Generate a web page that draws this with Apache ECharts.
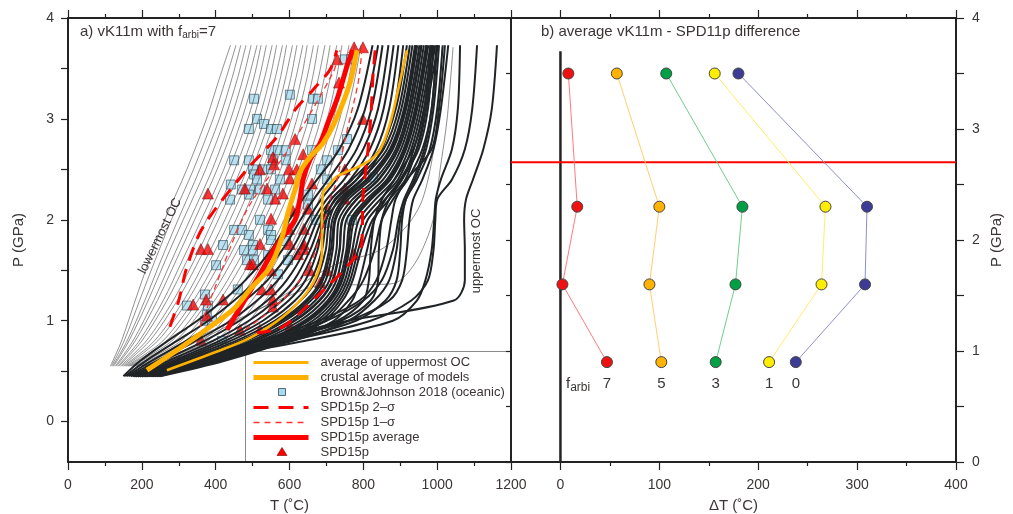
<!DOCTYPE html>
<html>
<head>
<meta charset="utf-8">
<script src="https://cdn.jsdelivr.net/npm/echarts@6/dist/echarts.min.js"></script>
<style>
html,body{margin:0;padding:0;background:#fff;}
#chart{width:1013px;height:514px;}
</style>
</head>
<body>
<div id="chart"></div>
<script>
var FONT = '"Liberation Sans", Arial, sans-serif';
var TXT = '#3b3434';
var AX = '#232323';

// ---- panel a: model P-T paths (T in C at fixed P levels) ----
var pThin = [0.55, 0.8, 1.2, 1.6, 2.0, 2.5, 3.0, 3.4, 3.73];
var thinCurves = [
    [115,145,182,220,262,322,375,410,440],
    [118,152,194,236,280,340,393,428,455],
    [121,160,208,252,298,357,410,444,468],
    [124,165,217,264,312,373,425,459,482],
    [128,176,232,281,330,391,441,474,496],
    [131,182,242,293,343,404,456,489,512],
    [135,193,258,310,361,422,471,503,523],
    [138,200,268,323,375,436,487,518,537],
    [142,212,285,342,393,452,502,532,553],
    [146,221,296,355,407,468,517,547,565],
    [150,234,313,372,425,485,532,561,581],
    [154,243,324,385,439,498,547,575,592],
    [158,257,340,402,455,513,561,589,608],
    [162,267,352,415,470,528,575,603,620],
    [166,281,368,432,487,545,590,617,636],
    [170,291,380,445,500,558,605,632,648],
    [175,306,397,463,518,576,620,647,665],
    [180,318,410,477,532,590,636,662,678],
    [186,334,428,496,551,607,652,678,696],
    [192,347,443,511,566,624,668,694,710],
    [198,364,462,530,585,641,685,710,728],
    [205,378,478,546,601,658,702,727,742],
    [212,397,498,566,621,677,719,744,761],
    [220,412,514,582,637,692,736,761,776],
    [228,432,534,602,657,711,752,777,794]
];
var thinOdd1 = [[200,0.55],[330,0.8],[480,1.05],[600,1.25],[683,1.35],[845,1.36],[891,1.38],[945,1.6],[989,2.0],[1008,2.5],[1027,3.0],[1043,3.71]];
var thinOdd2 = [[210,0.55],[380,0.85],[560,1.2],[720,1.55],[845,1.7],[920,1.95],[960,2.2],[989,2.66],[1005,3.2],[1013,3.71]];

var pThick = [0.45, 0.6, 0.8, 1.0, 1.2, 1.4, 1.7, 2.0, 2.2, 2.4, 2.7, 3.1, 3.73];
var thickCurves = [
    [150,195,270,350,420,480,550,600,635,675,735,785,825],
    [155,210,295,380,450,510,580,630,665,705,760,805,840],
    [160,225,320,410,480,540,605,650,685,728,782,822,852],
    [165,240,345,440,512,568,625,665,700,748,800,840,868],
    [170,255,370,465,540,592,642,676,712,765,818,855,882],
    [175,270,392,490,562,612,656,688,725,782,835,870,895],
    [180,282,410,510,580,628,668,698,738,798,850,884,908],
    [185,292,425,528,598,643,676,690,712,770,845,888,918],
    [190,302,440,545,615,658,688,700,722,782,855,896,926],
    [195,312,455,560,630,672,698,708,733,795,864,903,933],
    [200,322,468,574,644,685,707,716,745,808,872,910,940],
    [205,332,482,588,658,698,717,725,758,820,880,916,946],
    [210,342,495,602,670,708,727,734,770,832,888,922,952],
    [215,352,508,615,682,718,736,744,782,843,895,928,958],
    [220,362,520,628,693,727,745,754,795,854,902,934,964],
    [225,372,533,640,703,735,754,765,808,864,909,940,970],
    [230,382,546,652,712,743,762,776,820,874,916,946,976],
    [235,392,558,663,720,750,770,788,832,884,923,952,982],
    [240,402,570,674,728,757,778,800,845,894,930,958,988],
    [245,412,582,684,736,764,786,812,858,904,937,964,995],
    [250,422,594,694,744,771,794,825,870,914,944,970,1002],
    [200,330,470,580,650,690,712,722,750,812,876,913,943],
    [215,355,505,612,680,716,735,743,780,841,893,927,957],
    [228,378,540,646,708,740,758,770,815,869,913,943,973],
    [180,320,520,760,1045,1075,1075,1073,1078,1097,1125,1148,1162],
    [185,340,640,880,945,968,985,992,996,1010,1040,1056,1062],
    [190,330,520,680,790,835,862,876,887,918,985,1005,1021],
    [185,350,600,820,930,975,990,995,1000,1040,1075,1095,1108],
    [180,330,560,760,870,905,918,925,935,960,990,1010,1030],
    [195,345,540,700,800,850,880,895,910,935,965,985,1000],
    [200,360,580,740,820,840,842,850,870,905,950,975,990],
    [210,380,600,720,770,790,810,830,860,900,945,970,985],
    [190,340,560,730,800,815,820,830,850,885,935,965,982],
    [195,350,590,780,860,890,900,905,915,945,980,1000,1015],
    [205,370,610,760,830,870,890,900,915,940,970,990,1005],
    [200,355,560,700,760,800,830,850,880,920,960,985,998]
];

var avgUpperOC = [[268,0.51],[400,0.69],[493,0.83],[582,1.04],[647,1.28],[677,1.48],[688,1.7],[688,2.03],[691,2.27],[704,2.33],[729,2.43],[783,2.52],[818,2.59],[845,2.69],[872,2.95],[895,3.3],[918,3.68]];
var crustalAvg = [[214,0.51],[300,0.72],[385,0.94],[450,1.12],[493,1.31],[547,1.53],[580,1.83],[596,2.07],[615,2.3],[628,2.47],[655,2.62],[691,2.76],[729,3.02],[764,3.36],[783,3.68]];
var spdAvg = [[431,0.91],[470,1.15],[512,1.41],[560,1.72],[615,2.0],[628,2.2],[637,2.4],[655,2.59],[683,2.76],[704,2.96],[731,3.22],[758,3.55],[772,3.68]];
var sigma2Left = [[276,0.94],[300,1.2],[322,1.53],[366,1.93],[485,2.5],[566,2.82],[615,3.09],[664,3.29],[710,3.49],[728,3.68]];
var sigma2Right = [[512,0.88],[582,0.94],[674,1.24],[764,1.57],[796,1.77],[799,2.23],[810,2.6],[820,3.0],[826,3.42],[832,3.68]];
var sigma1Left = [[358,0.94],[393,1.28],[485,2.1],[601,2.72],[718,3.46],[737,3.68]];
var sigma1Right = [[480,0.91],[574,1.18],[647,1.5],[677,1.77],[710,2.2],[729,2.4],[750,2.79],[786,3.36],[796,3.68]];

var brownJohnson = [
    [601,3.24],[504,3.2],[664,3.2],[677,3.2],[512,3.0],[531,2.95],[490,2.9],[550,2.9],[566,2.9],[661,3.0],
    [756,2.8],[550,2.69],[569,2.69],[590,2.69],[661,2.69],[731,2.69],[450,2.59],[490,2.59],[555,2.59],[590,2.59],
    [702,2.59],[501,2.5],[528,2.5],[550,2.5],[685,2.5],[504,2.45],[512,2.4],[574,2.4],[702,2.4],[441,2.35],
    [471,2.3],[493,2.3],[520,2.3],[561,2.3],[826,2.42],[439,2.2],[490,2.25],[542,2.2],[650,2.25],[650,2.15],
    [520,2.0],[672,2.0],[696,1.97],[769,2.0],[450,1.9],[471,1.9],[490,1.85],[542,1.9],[550,1.85],[420,1.75],
    [501,1.75],[550,1.8],[477,1.7],[501,1.7],[542,1.65],[485,1.6],[504,1.6],[596,1.6],[401,1.55],[569,1.46],
    [460,1.31],[371,1.26],[322,1.15],[379,1.15],[376,1.06],[371,1.0],[390,1.0],[417,0.8],[750,3.59],[767,3.59],
    [590,1.79]
];
var spd15p = [
    [775,3.71],[799,3.71],[729,3.59],[734,3.36],[615,2.8],[637,2.65],[799,3.0],[555,2.62],[558,2.55],[520,2.5],
    [599,2.5],[620,2.5],[750,2.5],[601,2.41],[539,2.31],[479,2.31],[561,2.21],[582,2.26],[661,2.36],[750,2.31],
    [750,2.21],[379,2.26],[650,2.11],[609,2.09],[550,2.01],[599,1.91],[639,1.91],[520,1.76],[601,1.76],[639,1.76],
    [623,1.66],[639,1.71],[360,1.71],[379,1.71],[493,1.56],[501,1.56],[550,1.5],[702,1.5],[775,1.66],[655,1.5],
    [683,1.38],[525,1.31],[550,1.31],[374,1.21],[420,1.21],[339,1.16],[555,1.21],[555,1.14],[376,1.05],[466,0.91],
    [520,0.91],[360,0.81],[601,0.94]
];

// ---- panel b: average difference ----
var fArbi = [7, 5, 3, 1, 0];
var pB = [3.5, 2.3, 1.6, 0.9];
var dT7 = [8, 17, 2, 47];
var dT5 = [57, 100, 90, 102];
var dT3 = [107, 184, 177, 157];
var dT1 = [156, 268, 264, 211];
var dT0 = [180, 310, 308, 238];
var redLineP = 2.7;
var zeroLineTop = 3.7;

var dotFill = ['#ee1111', '#ffb300', '#00a045', '#ffee00', '#3c3c96'];
var lineTint = ['#ff7b7b', '#ffcf70', '#6fcf8f', '#ffee66', '#8f8fcc'];

function pairs(ts, ps) {
    return ts.map(function (t, i) { return [t, ps[i]]; });
}

var chart = echarts.init(document.getElementById('chart'));
var series = [];

thinCurves.forEach(function (ts) {
    series.push({type: 'line', xAxisIndex: 0, yAxisIndex: 0, data: pairs(ts, pThin), symbol: 'none',
        smooth: 0.3, silent: true, lineStyle: {color: '#454545', width: 0.6}});
});
[thinOdd1, thinOdd2].forEach(function (d) {
    series.push({type: 'line', xAxisIndex: 0, yAxisIndex: 0, data: d, symbol: 'none',
        smooth: 0.3, silent: true, lineStyle: {color: '#454545', width: 0.6}});
});
thickCurves.forEach(function (ts) {
    series.push({type: 'line', xAxisIndex: 0, yAxisIndex: 0, data: pairs(ts, pThick), symbol: 'none',
        smooth: 0.3, silent: true, lineStyle: {color: '#202427', width: 2}});
});

function aLine(d, color, width, dash) {
    series.push({type: 'line', xAxisIndex: 0, yAxisIndex: 0, data: d, symbol: 'none', smooth: 0.3, silent: true,
        lineStyle: {color: color, width: width, type: dash || 'solid'}});
}
aLine(avgUpperOC, '#ffb000', 2.6);
aLine(sigma2Left, '#ff0000', 3, [14, 9]);
aLine(sigma2Right, '#ff0000', 3, [14, 9]);
aLine(sigma1Left, '#ff3333', 1.3, [6, 4]);
aLine(sigma1Right, '#ff3333', 1.3, [6, 4]);
aLine(spdAvg, '#ff0000', 5);
aLine(crustalAvg, '#ffb000', 5);

series.push({type: 'scatter', xAxisIndex: 0, yAxisIndex: 0, data: brownJohnson, symbol: 'rect', symbolSize: 9,
    silent: true, itemStyle: {color: '#a6daee', borderColor: '#2d4b5a', borderWidth: 0.8}});
series.push({type: 'scatter', xAxisIndex: 0, yAxisIndex: 0, data: spd15p, symbol: 'triangle', symbolSize: 11,
    silent: true, itemStyle: {color: '#ff0000', borderColor: '#7a0000', borderWidth: 0.6}});

// panel b
series.push({type: 'line', xAxisIndex: 2, yAxisIndex: 1, data: [[0, 0], [0, zeroLineTop]], symbol: 'none',
    silent: true, lineStyle: {color: AX, width: 2.5}});
series.push({type: 'line', xAxisIndex: 2, yAxisIndex: 1, data: [[-50, redLineP], [400, redLineP]], symbol: 'none',
    silent: true, lineStyle: {color: '#ff0000', width: 2}});
[dT7, dT5, dT3, dT1, dT0].forEach(function (arr, k) {
    var d = arr.map(function (v, i) {
        var item = {value: [v, pB[i]]};
        if (i === pB.length - 1) {
            item.label = {show: true, position: 'bottom', distance: 8, formatter: String(fArbi[k]),
                fontSize: 15, fontFamily: FONT, color: TXT};
        }
        return item;
    });
    series.push({type: 'line', xAxisIndex: 2, yAxisIndex: 1, data: d, symbol: 'circle', symbolSize: 11,
        silent: true, lineStyle: {color: lineTint[k], width: 1},
        itemStyle: {color: dotFill[k], borderColor: '#444', borderWidth: 1}});
});

var lineAx = {show: true, onZero: false, lineStyle: {color: AX, width: 2}};
var noLine = {show: false, onZero: false};
var plain = function (v) { return String(v); };
var lbl = {color: TXT, fontSize: 14, fontFamily: FONT, formatter: plain};
var nameStyle = {color: TXT, fontSize: 15, fontFamily: FONT};
var halfs = [0, 0.5, 1, 1.5, 2, 2.5, 3, 3.5, 4];
var ints = [0, 1, 2, 3, 4];
var tk = function (len, vals) {
    var o = {show: true, length: len, lineStyle: {color: AX, width: 1.2}};
    if (vals) o.customValues = vals;
    return o;
};

var option = {
    animation: false,
    backgroundColor: '#fff',
    grid: [
        {left: 68, top: 18, width: 443, height: 444, outerBoundsMode: 'none'},
        {left: 511, top: 18, width: 445, height: 444, outerBoundsMode: 'none'}
    ],
    xAxis: [
        {gridIndex: 0, type: 'value', min: 0, max: 1200, interval: 200, position: 'bottom',
            axisLine: lineAx, splitLine: {show: false}, axisTick: tk(8),
            minorTick: {show: true, splitNumber: 2, length: 4, lineStyle: {color: AX, width: 1.2}},
            axisLabel: Object.assign({margin: 16}, lbl),
            name: 'T (˚C)', nameLocation: 'middle', nameGap: 36, nameTextStyle: nameStyle},
        {gridIndex: 0, type: 'value', min: 0, max: 1200, interval: 200, position: 'top',
            axisLine: lineAx, splitLine: {show: false}, axisTick: tk(8),
            minorTick: {show: true, splitNumber: 2, length: 4, lineStyle: {color: AX, width: 1.2}},
            axisLabel: {show: false}},
        {gridIndex: 1, type: 'value', min: -50, max: 400, position: 'bottom',
            axisLine: lineAx, splitLine: {show: false}, axisTick: tk(8, [0, 100, 200, 300, 400]),
            axisLabel: Object.assign({margin: 16, customValues: [0, 100, 200, 300, 400]}, lbl),
            name: 'ΔT (˚C)', nameLocation: 'middle', nameGap: 36, nameTextStyle: nameStyle},
        {gridIndex: 1, type: 'value', min: -50, max: 400, position: 'top',
            axisLine: lineAx, splitLine: {show: false}, axisTick: tk(8, [0, 100, 200, 300, 400]),
            axisLabel: {show: false}},
        {gridIndex: 1, type: 'value', min: -50, max: 400, position: 'top', offset: 0,
            axisLine: noLine, splitLine: {show: false}, axisTick: tk(4, [50, 150, 250, 350]),
            axisLabel: {show: false}},
        {gridIndex: 1, type: 'value', min: -50, max: 400, position: 'bottom', offset: 0,
            axisLine: noLine, splitLine: {show: false}, axisTick: tk(4, [50, 150, 250, 350]),
            axisLabel: {show: false}}
    ],
    yAxis: [
        {gridIndex: 0, type: 'value', min: -0.4, max: 4, position: 'left',
            axisLine: lineAx, splitLine: {show: false}, axisTick: tk(7, halfs),
            axisLabel: Object.assign({margin: 14, customValues: ints}, lbl),
            name: 'P (GPa)', nameLocation: 'middle', nameGap: 42, nameRotate: 90, nameTextStyle: nameStyle},
        {gridIndex: 1, type: 'value', min: 0, max: 4, position: 'right',
            axisLine: lineAx, splitLine: {show: false}, axisTick: tk(8, halfs),
            axisLabel: Object.assign({margin: 16, customValues: ints}, lbl),
            name: 'P (GPa)', nameLocation: 'middle', nameGap: 33, nameRotate: 90, nameTextStyle: nameStyle},
        {gridIndex: 1, type: 'value', min: 0, max: 4, position: 'left',
            axisLine: lineAx, splitLine: {show: false}, axisTick: tk(5, halfs),
            axisLabel: {show: false}}
    ],
    series: series,
    graphic: [
        {type: 'text', left: 80, top: 24, z: 100, silent: true,
            style: {text: 'a) vK11m with f{s|arbi}=7', font: '15px ' + FONT, fill: TXT,
                rich: {s: {fontSize: 10, fontFamily: FONT, fill: TXT, padding: [8, 0, 0, 0]}}}},
        {type: 'text', left: 541, top: 24, z: 100, silent: true,
            style: {text: 'b) average vK11m - SPD11p difference', font: '15px ' + FONT, fill: TXT}},
        {type: 'text', x: 160, y: 236, rotation: 64 * Math.PI / 180, z: 100, silent: true,
            style: {text: 'lowermost OC', font: '13px ' + FONT, fill: TXT, align: 'center', verticalAlign: 'middle'}},
        {type: 'text', x: 476, y: 251, rotation: Math.PI / 2, z: 100, silent: true,
            style: {text: 'uppermost OC', font: '13px ' + FONT, fill: TXT, align: 'center', verticalAlign: 'middle'}},
        {type: 'text', left: 566, top: 376, z: 100, silent: true,
            style: {text: 'f{s|arbi}', font: '15px ' + FONT, fill: TXT,
                rich: {s: {fontSize: 12, fontFamily: FONT, fill: TXT, padding: [9, 0, 0, 0]}}}},
        {type: 'group', left: 245, top: 351, z: 100, silent: true, children: [
            {type: 'rect', shape: {x: 0, y: 0, width: 266, height: 111}, style: {fill: '#fff', stroke: '#8a8a8a', lineWidth: 1}},
            {type: 'line', shape: {x1: 8, y1: 11, x2: 63, y2: 11}, style: {stroke: '#ffb000', lineWidth: 3}},
            {type: 'line', shape: {x1: 8, y1: 26, x2: 63, y2: 26}, style: {stroke: '#ffb000', lineWidth: 5}},
            {type: 'rect', shape: {x: 33, y: 37, width: 7, height: 7}, style: {fill: '#a6daee', stroke: '#2d4b5a', lineWidth: 0.8}},
            {type: 'line', shape: {x1: 8, y1: 56, x2: 63, y2: 56}, style: {stroke: '#ff0000', lineWidth: 3, lineDash: [15, 10]}},
            {type: 'line', shape: {x1: 8, y1: 71, x2: 63, y2: 71}, style: {stroke: '#ff3333', lineWidth: 1.3, lineDash: [6, 5]}},
            {type: 'line', shape: {x1: 8, y1: 86, x2: 63, y2: 86}, style: {stroke: '#ff0000', lineWidth: 5}},
            {type: 'polygon', shape: {points: [[36.5, 96], [41.5, 104], [31.5, 104]]}, style: {fill: '#ff0000', stroke: '#7a0000', lineWidth: 0.6}},
            {type: 'text', x: 75, y: 11, style: {text: 'average of uppermost OC', font: '13px ' + FONT, fill: TXT, verticalAlign: 'middle'}},
            {type: 'text', x: 75, y: 26, style: {text: 'crustal average of models', font: '13px ' + FONT, fill: TXT, verticalAlign: 'middle'}},
            {type: 'text', x: 75, y: 41, style: {text: 'Brown&Johnson 2018 (oceanic)', font: '13px ' + FONT, fill: TXT, verticalAlign: 'middle'}},
            {type: 'text', x: 75, y: 56, style: {text: 'SPD15p 2–σ', font: '13px ' + FONT, fill: TXT, verticalAlign: 'middle'}},
            {type: 'text', x: 75, y: 71, style: {text: 'SPD15p 1–σ', font: '13px ' + FONT, fill: TXT, verticalAlign: 'middle'}},
            {type: 'text', x: 75, y: 86, style: {text: 'SPD15p average', font: '13px ' + FONT, fill: TXT, verticalAlign: 'middle'}},
            {type: 'text', x: 75, y: 101, style: {text: 'SPD15p', font: '13px ' + FONT, fill: TXT, verticalAlign: 'middle'}}
        ]}
    ]
};
chart.setOption(option);
</script>
</body>
</html>
